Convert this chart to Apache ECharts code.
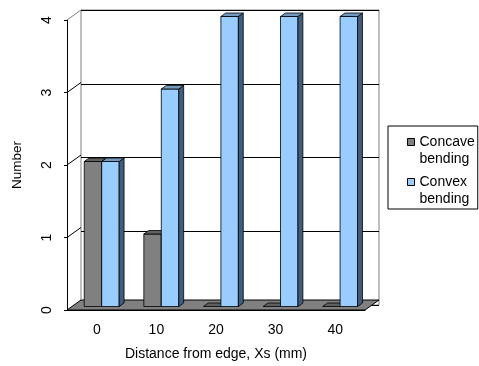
<!DOCTYPE html>
<html>
<head>
<meta charset="utf-8">
<script src="https://cdn.jsdelivr.net/npm/echarts@6/dist/echarts.min.js"></script>
<style>
html, body { margin: 0; padding: 0; background: #fff; }
#root { width: 479px; height: 366px; }
</style>
</head>
<body>
<div id="root"></div>
<script>
const categories = ['0', '10', '20', '30', '40'];
const concave = [2, 1, 0, 0, 0];
const convex = [2, 3, 4, 4, 4];
const yTicks = [0, 1, 2, 3, 4];
const xTitle = 'Distance from edge, Xs (mm)';
const yTitle = 'Number';

// fake 3d: back wall sits 14px right and 10px up from the front plane
const DX = 14, DY = -10;
const FRONT = 0.35, DEPTH = 0.35; // slice of the depth the bars use
const BAR = 0.293;                // bar width, fraction of a band
const FONT = 'Liberation Sans, Arial, sans-serif';

let root = document.getElementById('root');
let myChart = echarts.init(root, null, { renderer: 'canvas' });

function bars(shift, front, top, side) {
    return function (params, api) {
        let b = api.coord([api.value(0), 0]);
        let t = api.coord([api.value(0), api.value(1)]);
        let w = api.size([1, 0])[0] * BAR;
        let x = b[0] + shift * w + DX * FRONT;
        let y0 = b[1] + DY * FRONT;
        let y1 = t[1] + DY * FRONT;
        let dx = DX * DEPTH, dy = DY * DEPTH;
        let ln = { stroke: '#000', lineWidth: 0.8 };
        let kids = [];
        if (y0 - y1 > 0.5) {
            kids.push({ type: 'rect', shape: { x: x, y: y1, width: w, height: y0 - y1 },
                style: Object.assign({ fill: front }, ln) });
            kids.push({ type: 'polygon', shape: { points: [[x + w, y1], [x + w + dx, y1 + dy], [x + w + dx, y0 + dy], [x + w, y0]] },
                style: Object.assign({ fill: side }, ln) });
        }
        kids.push({ type: 'polygon', shape: { points: [[x, y1], [x + w, y1], [x + w + dx, y1 + dy], [x + dx, y1 + dy]] },
            style: Object.assign({ fill: top }, ln) });
        return { type: 'group', children: kids };
    };
}

// floor and the left wall lines
function frame(params, api) {
    let cs = params.coordSys;
    let v = api.value(1);
    let y = api.coord([api.value(0), v])[1];
    if (v === yTicks[0]) {
        return {
            type: 'polygon',
            shape: { points: [[cs.x, y], [cs.x + cs.width, y], [cs.x + cs.width + DX, y + DY], [cs.x + DX, y + DY]] },
            style: { fill: '#808080', stroke: '#000', lineWidth: 1 }
        };
    }
    return {
        type: 'line',
        shape: { x1: cs.x, y1: y, x2: cs.x + DX, y2: y + DY },
        style: { stroke: v === yTicks[yTicks.length - 1] ? '#808080' : '#000', lineWidth: 1 }
    };
}

let option = {
    animation: false,
    backgroundColor: '#fff',
    textStyle: { fontFamily: FONT },
    grid: [
        { left: 67, top: 20, width: 298, height: 295, containLabel: false },
        { left: 81, top: 10, width: 298, height: 295, show: true, borderColor: '#808080', borderWidth: 1 }
    ],
    legend: {
        orient: 'vertical',
        left: 388,
        top: 126,
        padding: [7, 3, 1, 19],
        itemGap: 5,
        itemWidth: 7,
        itemHeight: 24,
        icon: 'path://M0,0h7v7h-7zM0,24',
        itemStyle: { borderColor: '#000', borderWidth: 1 },
        borderColor: '#000',
        borderWidth: 1,
        backgroundColor: '#fff',
        formatter: function (n) { return n.replace(' ', '\n'); },
        textStyle: { fontFamily: FONT, fontSize: 14, color: '#000', lineHeight: 17.5 },
        data: ['Concave bending', 'Convex bending']
    },
    xAxis: [
        {
            type: 'category', gridIndex: 0, data: categories, z: 3,
            axisLine: { lineStyle: { color: '#000', width: 1 } },
            axisTick: { length: 5, lineStyle: { color: '#000' } },
            axisLabel: { color: '#000', fontSize: 14, margin: 13, fontFamily: FONT },
            name: xTitle, nameLocation: 'middle', nameGap: 37,
            nameTextStyle: { color: '#000', fontSize: 14, fontFamily: FONT }
        },
        {
            type: 'category', gridIndex: 1, data: categories, show: false
        }
    ],
    yAxis: [
        {
            type: 'value', gridIndex: 0, min: 0, max: 4, interval: 1,
            axisLine: { show: true, lineStyle: { color: '#000', width: 1 } },
            axisTick: { show: true, length: 3, lineStyle: { color: '#000' } },
            axisLabel: { rotate: 90, margin: 13, color: '#000', fontSize: 14, fontFamily: FONT },
            splitLine: { show: false },
            name: yTitle, nameLocation: 'middle', nameGap: 43,
            nameTextStyle: { color: '#000', fontSize: 13.5, fontFamily: FONT }
        },
        {
            type: 'value', gridIndex: 1, min: 0, max: 4, interval: 1,
            axisLine: { show: false }, axisTick: { show: false }, axisLabel: { show: false },
            splitLine: { show: true, lineStyle: { color: '#000', width: 1 } }
        }
    ],
    series: [
        {
            type: 'custom', name: 'frame', xAxisIndex: 0, yAxisIndex: 0, z: 1, silent: true, clip: false,
            renderItem: frame,
            data: yTicks.map(v => [categories[0], v])
        },
        {
            type: 'custom', name: 'Concave bending', xAxisIndex: 0, yAxisIndex: 0, z: 2, silent: true, clip: false,
            itemStyle: { color: '#808080' },
            renderItem: bars(-1, '#808080', '#606060', '#404040'),
            data: concave.map((v, i) => [categories[i], v])
        },
        {
            type: 'custom', name: 'Convex bending', xAxisIndex: 0, yAxisIndex: 0, z: 2, silent: true, clip: false,
            itemStyle: { color: '#99CCFF' },
            renderItem: bars(0, '#99CCFF', '#7399bf', '#3f5d7d'),
            data: convex.map((v, i) => [categories[i], v])
        }
    ]
};
myChart.setOption(option);
</script>
</body>
</html>
